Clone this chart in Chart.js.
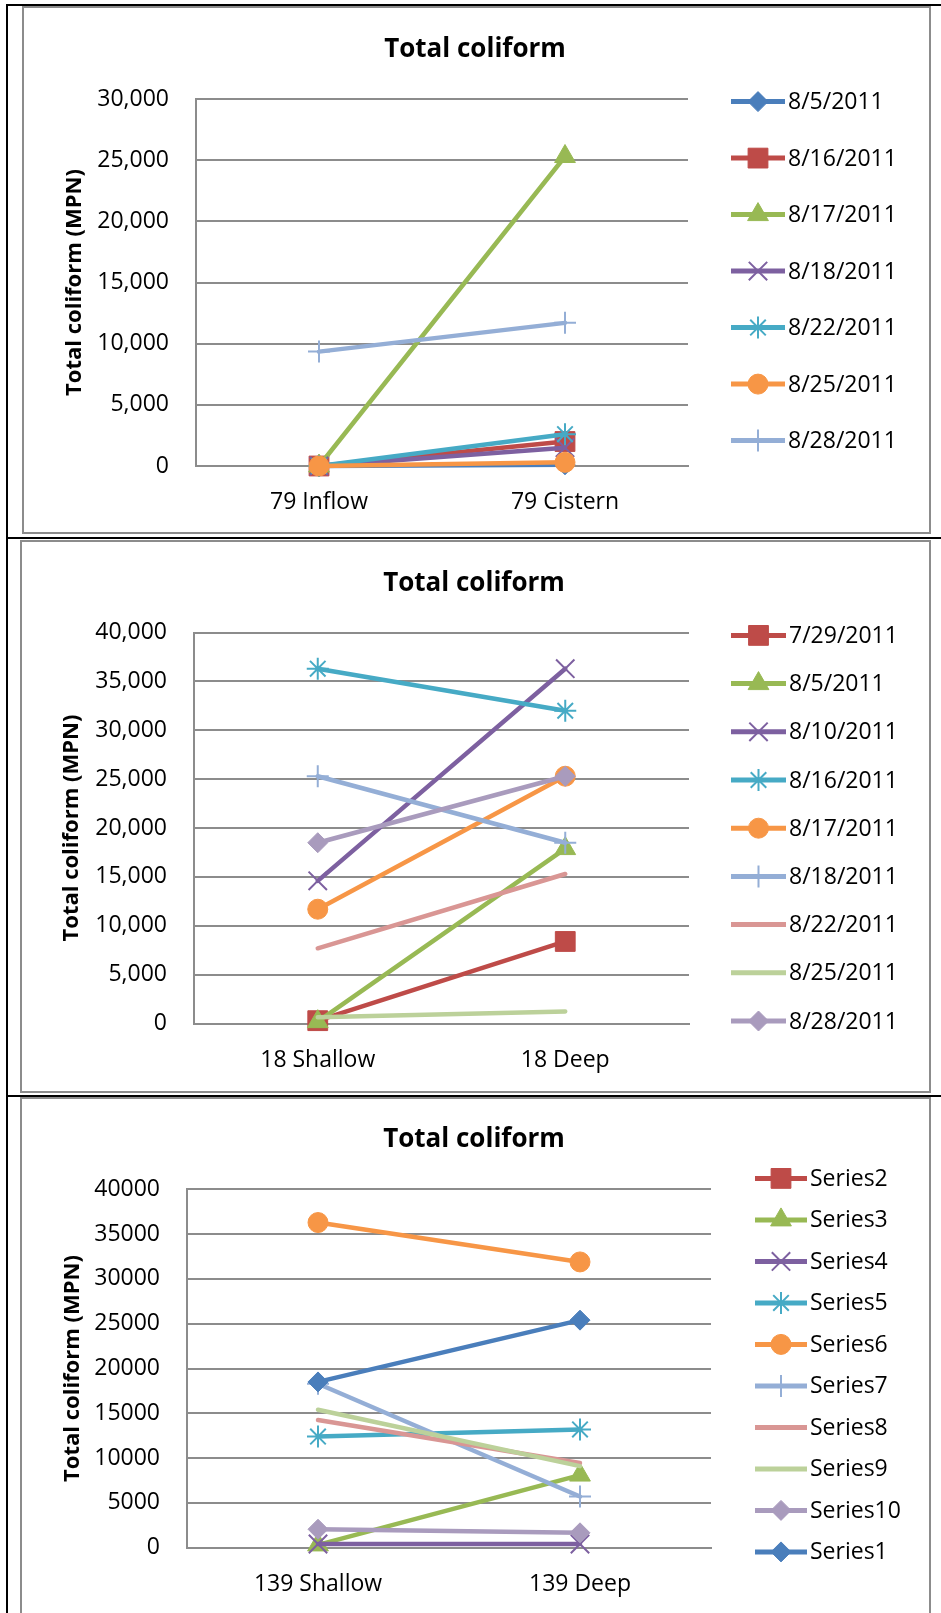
<!DOCTYPE html>
<html>
<head>
<meta charset="utf-8">
<title>Total coliform</title>
<script src="https://cdn.jsdelivr.net/npm/chart.js@4/dist/chart.umd.min.js"></script>
<style>
  html, body { margin: 0; padding: 0; background: #fff; }
  body { width: 941px; height: 1613px; position: relative; overflow: hidden; }
  .blk { position: absolute; background: #000; }
  .box { position: absolute; border: 2px solid #8c8c8c; box-sizing: border-box; }
  canvas { position: absolute; left: 0; }
</style>
</head>
<body>
<!-- table lines and chart frames -->
<div class="blk" style="left:6px;top:4px;width:935px;height:2px"></div>
<div class="blk" style="left:6px;top:4px;width:2px;height:1609px"></div>
<div class="blk" style="left:6px;top:537px;width:935px;height:2px"></div>
<div class="blk" style="left:6px;top:1095px;width:935px;height:2px"></div>
<div class="box" style="left:22px;top:6px;width:909px;height:528px"></div>
<div class="box" style="left:20px;top:540px;width:911px;height:553px"></div>
<div class="box" style="left:20px;top:1097px;width:911px;height:530px"></div>

<canvas id="c1" width="941" height="538" style="top:0px"></canvas>
<canvas id="c2" width="941" height="558" style="top:538px"></canvas>
<canvas id="c3" width="941" height="517" style="top:1096px"></canvas>

<script>
// ---- data ----
const cats1 = ['79 Inflow', '79 Cistern'];
const names1 = ['8/5/2011', '8/16/2011', '8/17/2011', '8/18/2011', '8/22/2011', '8/25/2011', '8/28/2011'];
const inflow79 = [0, 0, 0, 0, 0, 0, 9350];
const cistern79 = [100, 2000, 25300, 1500, 2600, 300, 11700];
const yTicks1 = [0, 5000, 10000, 15000, 20000, 25000, 30000];

const cats2 = ['18 Shallow', '18 Deep'];
const names2 = ['7/29/2011', '8/5/2011', '8/10/2011', '8/16/2011', '8/17/2011', '8/18/2011', '8/22/2011', '8/25/2011', '8/28/2011'];
const shallow18 = [300, 200, 14600, 36300, 11700, 25300, 7700, 650, 18500];
const deep18 = [8400, 17900, 36300, 32000, 25300, 18500, 15300, 1250, 25300];
const yTicks2 = [0, 5000, 10000, 15000, 20000, 25000, 30000, 35000, 40000];

const cats3 = ['139 Shallow', '139 Deep'];
const names3 = ['Series2', 'Series3', 'Series4', 'Series5', 'Series6', 'Series7', 'Series8', 'Series9', 'Series10', 'Series1'];
const shallow139 = [null, 300, 400, 12400, 36300, 18300, 14250, 15400, 2050, 18500];
const deep139 = [null, 8100, 400, 13200, 31900, 5700, 9450, 9100, 1650, 25400];
const yTicks3 = [0, 5000, 10000, 15000, 20000, 25000, 30000, 35000, 40000];

// Excel default series look (by series number)
const looks = {
  1: { color: '#4a7ebb', style: 'rectRot', r: 10 },
  2: { color: '#be4b48', style: 'rect', r: 14 },
  3: { color: '#98b954', style: 'triangle', r: 12 },
  4: { color: '#7d60a0', style: 'crossRot', r: 13 },
  5: { color: '#46aac5', style: 'star', r: 11 },
  6: { color: '#f79646', style: 'circle', r: 10 },
  7: { color: '#94aed6', style: 'cross', r: 11 },
  8: { color: '#d99694', style: 'circle', r: 0 },
  9: { color: '#bcd19a', style: 'circle', r: 0 },
  10: { color: '#a99bbd', style: 'rectRot', r: 10 }
};

const FONT = '"Open Sans", "DejaVu Sans", sans-serif';

// title, axis title and Excel-like legend drawn on the canvas
const decor = {
  id: 'decor',
  afterDraw(chart, args, o) {
    const ctx = chart.ctx;
    const area = chart.chartArea;
    ctx.save();
    ctx.fillStyle = '#000';
    ctx.textAlign = 'center';
    ctx.textBaseline = 'alphabetic';
    ctx.font = 'bold 26px ' + FONT;
    ctx.fillText('Total coliform', o.titleX, o.titleY);

    ctx.save();
    ctx.translate(o.yTitleX, (area.top + area.bottom) / 2);
    ctx.rotate(-Math.PI / 2);
    ctx.textBaseline = 'middle';
    ctx.font = 'bold 22px ' + FONT;
    ctx.fillText('Total coliform (MPN)', 0, 0);
    ctx.restore();

    chart.data.datasets.forEach((ds, i) => {
      const y = o.legY + i * o.legGap;
      ctx.strokeStyle = ds.borderColor;
      ctx.lineWidth = 5;
      ctx.lineCap = 'butt';
      ctx.beginPath();
      ctx.moveTo(o.legX, y);
      ctx.lineTo(o.legX + o.legW, y);
      ctx.stroke();
      ctx.fillStyle = ds.borderColor;
      ctx.lineWidth = ds.pointBorderWidth;
      Chart.helpers.drawPoint(ctx, {
        pointStyle: ds.pointStyle, radius: ds.pointRadius, borderWidth: ds.pointBorderWidth, rotation: 0
      }, o.legX + o.legW / 2, y);
      ctx.fillStyle = '#000';
      ctx.textAlign = 'left';
      ctx.textBaseline = 'middle';
      ctx.font = '23px ' + FONT;
      ctx.fillText(ds.label, o.legX + o.legW + 3, y + 1);
    });
    ctx.restore();
  }
};

function makeChart(id, cats, names, first, second, seriesNo, yMax, commas, box) {
  const n = names.length;
  const datasets = names.map((name, i) => {
    const lk = looks[seriesNo[i]];
    const thin = ['cross', 'crossRot', 'star'].includes(lk.style);
    return {
      label: name,
      data: [first[i], second[i]],
      borderColor: lk.color,
      backgroundColor: lk.color,
      borderWidth: 4.5,
      borderCapStyle: 'round',
      borderJoinStyle: 'round',
      tension: 0,
      clip: false,
      pointStyle: lk.style,
      pointRadius: lk.r,
      pointHoverRadius: lk.r,
      pointBorderWidth: thin ? 2 : 1,
      pointBackgroundColor: lk.color,
      pointBorderColor: lk.color,
      order: n - i
    };
  });
  return new Chart(document.getElementById(id), {
    type: 'line',
    data: { labels: cats, datasets: datasets },
    options: {
      responsive: false,
      animation: false,
      devicePixelRatio: 1,
      layout: { padding: { left: 0, top: box.top, right: box.right, bottom: 0 } },
      plugins: {
        legend: { display: false },
        title: { display: false },
        tooltip: { enabled: false },
        decor: box
      },
      scales: {
        x: {
          offset: true,
          grid: { display: false, drawTicks: false },
          border: { display: true, color: '#8c8c8c', width: 2 },
          ticks: { color: '#000', font: { family: FONT, size: 23 }, padding: box.xPad, maxRotation: 0 },
          afterFit(s) { s.height = box.xH; }
        },
        y: {
          min: 0,
          max: yMax,
          grid: { color: '#8c8c8c', lineWidth: 2, drawTicks: false },
          border: { display: true, color: '#8c8c8c', width: 2 },
          ticks: {
            stepSize: 5000,
            color: '#000',
            padding: 27,
            font: { family: FONT, size: 23 },
            callback: v => commas ? v.toLocaleString('en-US') : String(v)
          },
          afterFit(s) { s.width = box.yW; }
        }
      }
    },
    plugins: [decor]
  });
}

makeChart('c1', cats1, names1, inflow79, cistern79, [1, 2, 3, 4, 5, 6, 7], yTicks1[yTicks1.length - 1], true, {
  top: 99, right: 253, yW: 196, xH: 72, xPad: 23,
  titleX: 475, titleY: 57, yTitleX: 75,
  legX: 731, legW: 54, legY: 101.6, legGap: 56.5
});

makeChart('c2', cats2, names2, shallow18, deep18, [2, 3, 4, 5, 6, 7, 8, 9, 10], yTicks2[yTicks2.length - 1], true, {
  top: 94.5, right: 252, yW: 194, xH: 72.4, xPad: 23,
  titleX: 474, titleY: 53, yTitleX: 72,
  legX: 731, legW: 55, legY: 97.4, legGap: 48.2
});

makeChart('c3', cats3, names3, shallow139, deep139, [2, 3, 4, 5, 6, 7, 8, 9, 10, 1], yTicks3[yTicks3.length - 1], false, {
  top: 93.4, right: 230, yW: 187, xH: 65.4, xPad: 23,
  titleX: 474, titleY: 51, yTitleX: 73,
  legX: 755, legW: 52, legY: 82.4, legGap: 41.5
});
</script>
</body>
</html>
